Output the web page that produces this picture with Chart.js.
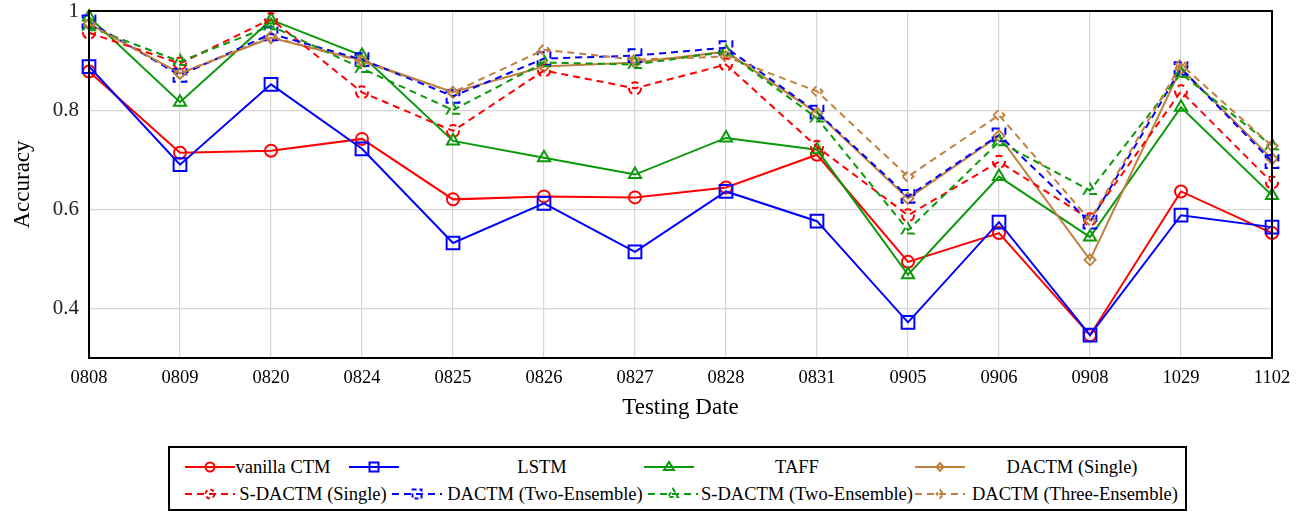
<!DOCTYPE html>
<html>
<head>
<meta charset="utf-8">
<script src="https://cdn.jsdelivr.net/npm/chart.js@4/dist/chart.umd.min.js"></script>
<style>
  body { margin: 0; background: #fff; font-family: "Liberation Serif", "Times New Roman", Times, "DejaVu Serif", serif; }
  #wrap { position: relative; width: 1301px; height: 430px; }
  #legend {
    position: absolute; left: 168px; top: 446px; width: 1015px; height: 61px;
    border: 2px solid #000; box-sizing: content-box;
  }
  .item { position: absolute; height: 24px; display: flex; align-items: center; }
  .item span { position: absolute; white-space: nowrap; font-size: 18.5px; color: #000; transform: translateX(-50%); }
</style>
</head>
<body>
<div id="wrap"><canvas id="chart"></canvas></div>
<div id="legend"></div>
<script>
const DATES = ['0808', '0809', '0820', '0824', '0825', '0826', '0827', '0828', '0831', '0905', '0906', '0908', '1029', '1102'];
const Y_TICKS = [0.4, 0.6, 0.8, 1];

const VANILLA_CTM = [0.878, 0.714, 0.718, 0.742, 0.620, 0.626, 0.624, 0.644, 0.710, 0.494, 0.552, 0.346, 0.636, 0.552];
const LSTM = [0.888, 0.690, 0.852, 0.722, 0.532, 0.612, 0.514, 0.636, 0.576, 0.372, 0.574, 0.346, 0.588, 0.564];
const TAFF = [0.988, 0.816, 0.982, 0.910, 0.738, 0.704, 0.670, 0.744, 0.720, 0.468, 0.666, 0.544, 0.806, 0.628];
const DACTM_SINGLE = [0.974, 0.874, 0.946, 0.900, 0.836, 0.888, 0.896, 0.918, 0.794, 0.622, 0.748, 0.498, 0.884, 0.702];
const S_DACTM_SINGLE = [0.956, 0.894, 0.984, 0.836, 0.758, 0.880, 0.844, 0.892, 0.726, 0.588, 0.696, 0.580, 0.838, 0.654];
const DACTM_TWO = [0.978, 0.870, 0.954, 0.902, 0.828, 0.904, 0.910, 0.926, 0.796, 0.626, 0.750, 0.574, 0.884, 0.696];
const S_DACTM_TWO = [0.968, 0.898, 0.970, 0.884, 0.800, 0.896, 0.892, 0.918, 0.784, 0.558, 0.736, 0.638, 0.874, 0.728];
const DACTM_THREE = [0.974, 0.874, 0.948, 0.898, 0.836, 0.922, 0.902, 0.908, 0.838, 0.666, 0.790, 0.578, 0.892, 0.728];

const RED = '#ff0000';
const BLUE = '#0000ff';
const GREEN = '#0a990a';
const BROWN = '#bf8040';
const DASH = [7, 5];
const SERIF = '"Liberation Serif", "Times New Roman", Times, "DejaVu Serif", serif';

// series setup: label, values, colour, marker, dashed
const SERIES = [
  ['vanilla CTM', VANILLA_CTM, RED, 'circle', false],
  ['LSTM', LSTM, BLUE, 'rect', false],
  ['TAFF', TAFF, GREEN, 'triangle', false],
  ['DACTM (Single)', DACTM_SINGLE, BROWN, 'rectRot', false],
  ['S-DACTM (Single)', S_DACTM_SINGLE, RED, 'circle', true],
  ['DACTM (Two-Ensemble)', DACTM_TWO, BLUE, 'rect', true],
  ['S-DACTM (Two-Ensemble)', S_DACTM_TWO, GREEN, 'triangle', true],
  ['DACTM (Three-Ensemble)', DACTM_THREE, BROWN, 'rectRot', true]
];

const MARKER_RADIUS = {circle: 6, rect: 9, triangle: 7, rectRot: 5.5};

const datasets = SERIES.map(([label, data, color, marker, dashed], i) => ({
  label,
  data,
  borderColor: color,
  backgroundColor: 'transparent',
  borderWidth: 2,
  borderDash: dashed ? DASH : [],
  pointStyle: marker,
  pointRadius: MARKER_RADIUS[marker],
  pointBorderWidth: 2,
  pointBorderColor: color,
  pointBackgroundColor: 'transparent',
  tension: 0,
  clip: false,
  order: -i,
  dashed
}));

// dashed series also get dashed markers, like pgfplots
const dashedMarkers = {
  id: 'dashedMarkers',
  beforeDatasetDraw(chart, args) {
    chart.ctx.save();
    if (args.meta._dataset.dashed) {
      chart.ctx.setLineDash(DASH);
    }
  },
  afterDatasetDraw(chart) {
    chart.ctx.restore();
  }
};

// black frame around the plot area
const frame = {
  id: 'frame',
  afterDraw(chart) {
    const {ctx, chartArea: a} = chart;
    ctx.save();
    ctx.strokeStyle = '#000';
    ctx.lineWidth = 2;
    ctx.strokeRect(a.left, a.top, a.right - a.left, a.bottom - a.top);
    ctx.restore();
  }
};

new Chart(document.getElementById('chart'), {
  type: 'line',
  data: {labels: DATES, datasets},
  options: {
    responsive: true,
    maintainAspectRatio: false,
    animation: false,
    layout: {padding: {top: 9, right: 29, left: 0, bottom: 0}},
    plugins: {legend: {display: false}, tooltip: {enabled: false}},
    scales: {
      x: {
        offset: false,
        grid: {color: '#d6d6d6', lineWidth: 1.2, drawTicks: false},
        border: {display: false},
        ticks: {color: '#000', padding: 9, maxRotation: 0, font: {family: SERIF, size: 18.5}},
        title: {display: true, text: 'Testing Date', color: '#000', padding: {top: 0, bottom: 8}, font: {family: SERIF, size: 23}},
        afterFit(scale) {
          scale.height = 72;
          scale.paddingLeft = 0;
          scale.paddingRight = 0;
        }
      },
      y: {
        min: 0.3,
        max: 1.0,
        afterBuildTicks(scale) { scale.ticks = Y_TICKS.map(v => ({value: v})); },
        grid: {color: '#d6d6d6', lineWidth: 1.2, drawTicks: false},
        border: {display: false},
        ticks: {
          color: '#222',
          padding: 10,
          font: {family: SERIF, size: 21},
          callback: v => (v === 1 ? '1' : v.toFixed(1))
        },
        title: {display: true, text: 'Accuracy', color: '#000', padding: {top: 9, bottom: 0}, font: {family: SERIF, size: 23}},
        afterFit(scale) {
          scale.width = 89;
          scale.paddingTop = 0;
          scale.paddingBottom = 0;
        }
      }
    }
  },
  plugins: [dashedMarkers, frame]
});

// legend: sample line with marker, label centred to its right
const LEGEND_ROWS = [[0, 1, 2, 3], [4, 5, 6, 7]];
const LEGEND_SPOTS = [
  [[15, 113], [179, 372], [474, 627], [745, 902]],
  [[15, 143], [222, 375], [478, 637], [745, 905]]
];

function markerSvg(marker, color, dashed) {
  const dash = dashed ? ' stroke-dasharray="4 3"' : '';
  const s = `fill="none" stroke="${color}" stroke-width="2"${dash}`;
  if (marker === 'circle') return `<circle cx="25" cy="12" r="4.5" ${s}/>`;
  if (marker === 'rect') return `<rect x="20.5" y="7.5" width="9" height="9" ${s}/>`;
  if (marker === 'triangle') return `<polygon points="25,7 30,15 20,15" ${s}/>`;
  return `<polygon points="25,8 28.5,12 25,16 21.5,12" ${s}/>`;
}

const legend = document.getElementById('legend');
LEGEND_ROWS.forEach((row, r) => {
  row.forEach((idx, c) => {
    const [label, , color, marker, dashed] = SERIES[idx];
    const [sx, tx] = LEGEND_SPOTS[r][c];
    const item = document.createElement('div');
    item.className = 'item';
    item.style.left = sx + 'px';
    item.style.top = (7 + r * 27) + 'px';
    const lineDash = dashed ? ' stroke-dasharray="7 5"' : '';
    item.innerHTML =
      `<svg width="50" height="24"><line x1="0" y1="12" x2="50" y2="12" stroke="${color}" stroke-width="2"${lineDash}/>` +
      markerSvg(marker, color, dashed) + '</svg>' +
      `<span style="left:${tx - sx}px">${label}</span>`;
    legend.appendChild(item);
  });
});
</script>
</body>
</html>
